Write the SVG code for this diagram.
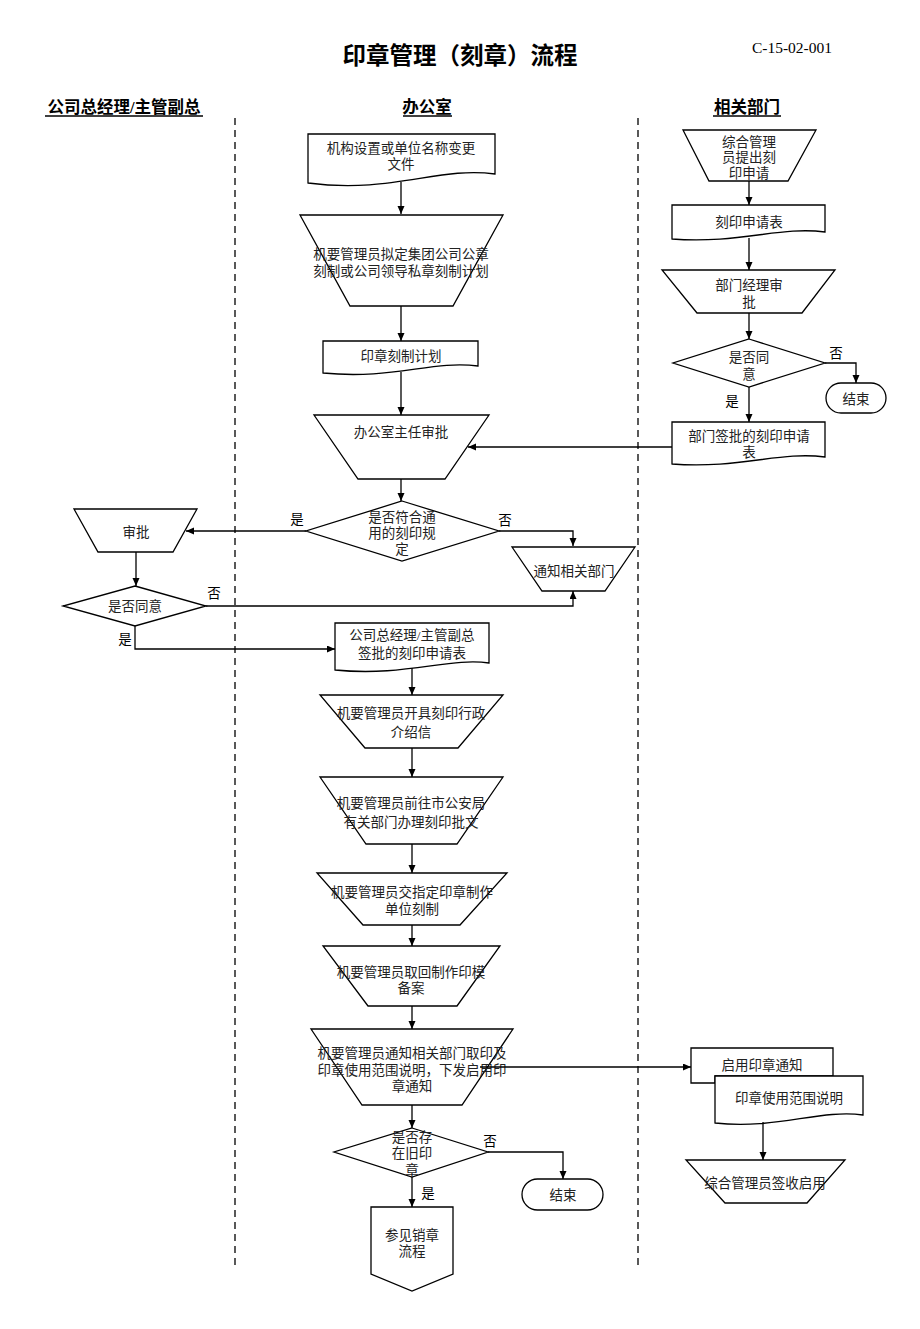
<svg xmlns="http://www.w3.org/2000/svg" width="920" height="1329" viewBox="0 0 920 1329">
<defs>
<marker id="ah" markerWidth="9" markerHeight="8" refX="8" refY="3.5" orient="auto" markerUnits="userSpaceOnUse"><path d="M0,0 L8,3.5 L0,7 z" fill="#000"/></marker>
<style>
.n{fill:#fff;stroke:#000;stroke-width:1.3}
.t{font-family:"Liberation Serif","Noto Sans CJK SC",serif;font-size:13.5px;fill:#222;text-anchor:middle}
.c{fill:none;stroke:#000;stroke-width:1.3;marker-end:url(#ah)}
.h{font-family:"Liberation Serif","Noto Sans CJK SC",serif;font-size:16.5px;font-weight:bold;fill:#000;text-anchor:middle}
.d{stroke:#000;stroke-width:1.3;stroke-dasharray:7,5}
</style>
</defs>
<rect width="920" height="1329" fill="#fff"/>
<g id="header">
<text x="460" y="64" font-family="'Noto Sans CJK SC',sans-serif" font-size="23.5" font-weight="bold" text-anchor="middle">印章管理（刻章）流程</text>
<text x="792" y="53" font-family="'Liberation Serif',serif" font-size="15.5" text-anchor="middle">C-15-02-001</text>
<text class="h" x="124" y="113">公司总经理/主管副总</text>
<line x1="45" y1="116" x2="203" y2="116" stroke="#000" stroke-width="1.3"/>
<text class="h" x="427" y="113">办公室</text>
<line x1="403" y1="116" x2="452" y2="116" stroke="#000" stroke-width="1.3"/>
<text class="h" x="747" y="113">相关部门</text>
<line x1="713" y1="116" x2="781" y2="116" stroke="#000" stroke-width="1.3"/>
<line class="d" x1="235" y1="118" x2="235" y2="1270"/>
<line class="d" x1="638" y1="118" x2="638" y2="1270"/>
</g>
<g id="n1"><path class="n" d="M308,134 H495 V174 C439,166 392,194 308,183 Z"/>
<text class="t" x="401" y="153">机构设置或单位名称变更</text><text class="t" x="401" y="169">文件</text></g>
<g id="n2"><path class="n" d="M300,215 H503 L453,306 H350 Z"/>
<text class="t" x="401" y="259">机要管理员拟定集团公司公章</text><text class="t" x="401" y="276">刻制或公司领导私章刻制计划</text></g>
<g id="n3"><path class="n" d="M323,341 H478 V366 C432,360 393,380 323,373 Z"/>
<text class="t" x="401" y="361">印章刻制计划</text></g>
<g id="n4"><path class="n" d="M314,415 H489 L445,479 H358 Z"/>
<text class="t" x="401" y="437">办公室主任审批</text></g>
<g id="n5"><path class="n" d="M402,501 L499,531 L402,561 L306,531 Z"/>
<text class="t" x="402" y="522">是否符合通</text><text class="t" x="402" y="538">用的刻印规</text><text class="t" x="402" y="554">定</text></g>
<g id="n6"><path class="n" d="M74,509 H197 L173,552 H98 Z"/>
<text class="t" x="136" y="537">审批</text></g>
<g id="n7"><path class="n" d="M512,547 H635 L605,591 H542 Z"/>
<text class="t" x="574" y="576">通知相关部门</text></g>
<g id="n8"><path class="n" d="M135,586 L206,606 L135,626 L63,606 Z"/>
<text class="t" x="135" y="611">是否同意</text></g>
<g id="n9"><path class="n" d="M335,623 H489 V663 C450,657 405,677 335,670 Z"/>
<text class="t" x="412" y="640">公司总经理/主管副总</text><text class="t" x="412" y="658">签批的刻印申请表</text></g>
<g id="n10"><path class="n" d="M320,695 H503 L458,748 H365 Z"/>
<text class="t" x="411" y="718">机要管理员开具刻印行政</text><text class="t" x="411" y="737">介绍信</text></g>
<g id="n11"><path class="n" d="M320,777 H503 L457,844 H366 Z"/>
<text class="t" x="411" y="808">机要管理员前往市公安局</text><text class="t" x="411" y="827">有关部门办理刻印批文</text></g>
<g id="n12"><path class="n" d="M317,873 H507 L460,925 H363 Z"/>
<text class="t" x="412" y="897">机要管理员交指定印章制作</text><text class="t" x="412" y="914">单位刻制</text></g>
<g id="n13"><path class="n" d="M323,946 H500 L457,1006 H368 Z"/>
<text class="t" x="411" y="977">机要管理员取回制作印模</text><text class="t" x="411" y="993">备案</text></g>
<g id="n14"><path class="n" d="M311,1029 H513 L462,1105 H362 Z"/>
<text class="t" x="412" y="1058">机要管理员通知相关部门取印及</text><text class="t" x="412" y="1075">印章使用范围说明，下发启用印</text><text class="t" x="412" y="1091">章通知</text></g>
<g id="n15"><path class="n" d="M412,1128 L488,1152 L412,1177 L334,1152 Z"/>
<text class="t" x="412" y="1142">是否存</text><text class="t" x="412" y="1158">在旧印</text><text class="t" x="412" y="1175">章</text></g>
<g id="n16"><rect class="n" x="522" y="1179" width="81" height="31" rx="15.5"/>
<text class="t" x="563" y="1200">结束</text></g>
<g id="n17"><path class="n" d="M371,1207 H453 V1274 L412,1291 L371,1274 Z"/>
<text class="t" x="412" y="1240">参见销章</text><text class="t" x="412" y="1256">流程</text></g>
<g id="n18"><path class="n" d="M683,130 H816 L788,181 H709 Z"/>
<text class="t" x="749" y="147">综合管理</text><text class="t" x="749" y="162">员提出刻</text><text class="t" x="749" y="178">印申请</text></g>
<g id="n19"><path class="n" d="M672,205 H825 V232 C780,226 740,244 672,239 Z"/>
<text class="t" x="749" y="227">刻印申请表</text></g>
<g id="n20"><path class="n" d="M662,270 H835 L802,313 H697 Z"/>
<text class="t" x="749" y="290">部门经理审</text><text class="t" x="749" y="307">批</text></g>
<g id="n21"><path class="n" d="M749,339 L825,363 L749,387 L673,363 Z"/>
<text class="t" x="749" y="362">是否同</text><text class="t" x="749" y="379">意</text></g>
<g id="n22"><rect class="n" x="826" y="383" width="60" height="30" rx="15"/>
<text class="t" x="856" y="404">结束</text></g>
<g id="n23"><path class="n" d="M672,422 H825 V457 C780,451 740,469 672,464 Z"/>
<text class="t" x="749" y="441">部门签批的刻印申请</text><text class="t" x="749" y="457">表</text></g>
<g id="n24"><path class="n" d="M691,1048 H833 V1076 H715 V1083 H691 Z"/>
<text class="t" x="762" y="1070">启用印章通知</text>
<path class="n" d="M715,1076 H863 V1115 C820,1109 775,1130 715,1123 Z"/>
<text class="t" x="789" y="1103">印章使用范围说明</text></g>
<g id="n25"><path class="n" d="M686,1160 H845 L807,1203 H725 Z"/>
<text class="t" x="765" y="1188">综合管理员签收启用</text></g>
<g id="connectors">
<path class="c" d="M401,182 V214"/>
<path class="c" d="M401,306 V341"/>
<path class="c" d="M401,372 V415"/>
<path class="c" d="M672,447 H468"/>
<path class="c" d="M401,479 V501"/>
<path class="c" d="M306,531 H186"/>
<path class="c" d="M499,531 H573 V546"/>
<path class="c" d="M136,552 V586"/>
<path class="c" d="M206,606 H573 V591"/>
<path class="c" d="M135,626 V649 H335"/>
<path class="c" d="M412,668 V695"/>
<path class="c" d="M412,748 V777"/>
<path class="c" d="M412,844 V873"/>
<path class="c" d="M412,925 V946"/>
<path class="c" d="M412,1006 V1029"/>
<path class="c" d="M412,1105 V1128"/>
<path class="c" d="M480,1067 H691"/>
<path class="c" d="M488,1152 H563 V1179"/>
<path class="c" d="M412,1177 V1207"/>
<path class="c" d="M763,1122 V1160"/>
<path class="c" d="M749,181 V205"/>
<path class="c" d="M749,238 V270"/>
<path class="c" d="M749,313 V339"/>
<path class="c" d="M825,363 H856 V383"/>
<path class="c" d="M749,387 V422"/>
<g font-family="'Liberation Serif','Noto Sans CJK SC',serif" font-size="13.5" text-anchor="middle">
<text x="297" y="524">是</text>
<text x="505" y="525">否</text>
<text x="214" y="598">否</text>
<text x="125" y="644">是</text>
<text x="836" y="358">否</text>
<text x="732" y="406">是</text>
<text x="490" y="1146">否</text>
<text x="428" y="1198">是</text>
</g>
</g>
</svg>
